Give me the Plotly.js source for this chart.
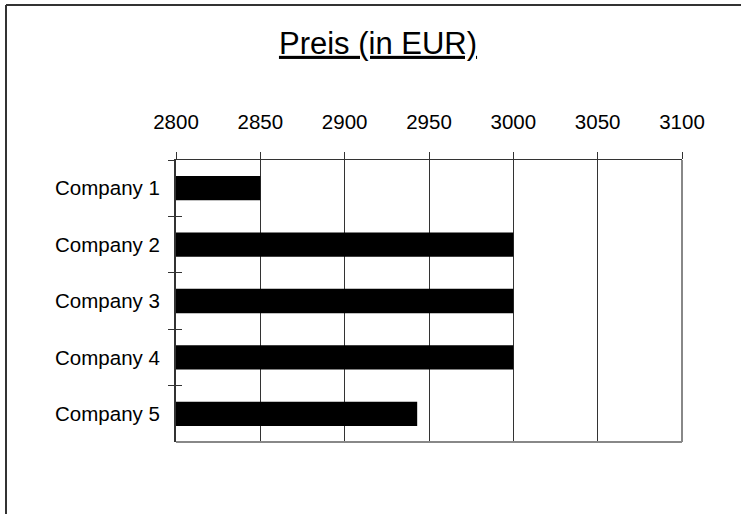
<!DOCTYPE html>
<html>
<head>
<meta charset="utf-8">
<script src="https://cdn.plot.ly/plotly-3.0.1.min.js"></script>
<style>html,body{margin:0;padding:0;background:#fff;}#chart{width:741px;height:514px;}</style>
</head>
<body>
<div id="chart"></div>
<script>
const categories = ["Company 1", "Company 2", "Company 3", "Company 4", "Company 5"];
const prices = [2850, 3000, 3000, 3000, 2943];
const xTicks = [2800, 2850, 2900, 2950, 3000, 3050, 3100];
const titleText = "Preis (in EUR)";

const font = "Arial, 'Liberation Sans', sans-serif";

const data = [
  {
    type: "bar",
    orientation: "h",
    y: categories,
    x: prices,
    base: 0,
    width: 0.43,
    marker: { color: "#000000", line: { width: 0 } },
    hoverinfo: "x+y",
    xaxis: "x",
    yaxis: "y"
  },
  {
    type: "scatter",
    mode: "none",
    y: categories,
    x: prices,
    xaxis: "x",
    yaxis: "y2",
    hoverinfo: "skip",
    showlegend: false
  }
];

const layout = {
  width: 741,
  height: 514,
  paper_bgcolor: "#ffffff",
  plot_bgcolor: "#ffffff",
  showlegend: false,
  margin: { l: 176, r: 59, t: 160, b: 72, pad: 0 },
  title: {
    text: "<u>" + titleText + "</u>",
    font: { family: font, size: 31, color: "#000" },
    x: 378 / 741,
    xanchor: "center",
    y: 1 - 43 / 514,
    yanchor: "middle"
  },
  xaxis: {
    side: "top",
    range: [2800, 3100],
    tickvals: xTicks,
    ticktext: xTicks.map(String),
    ticks: "outside",
    ticklen: 7,
    tickwidth: 1,
    tickcolor: "#333",
    showline: true,
    linecolor: "#333",
    linewidth: 1,
    showgrid: true,
    gridcolor: "#333",
    gridwidth: 1,
    zeroline: false,
    ticklabelstandoff: 15,
    tickfont: { family: font, size: 20.5, color: "#000" },
    fixedrange: true
  },
  yaxis: {
    type: "category",
    categoryorder: "array",
    categoryarray: categories,
    autorange: "reversed",
    tickson: "boundaries",
    ticks: "outside",
    ticklen: 6,
    tickwidth: 1,
    tickcolor: "#333",
    showline: true,
    linecolor: "#333",
    linewidth: 2,
    showgrid: false,
    zeroline: false,
    ticklabelstandoff: 10,
    tickfont: { family: font, size: 20.5, color: "#000" },
    fixedrange: true
  },
  yaxis2: {
    type: "category",
    categoryorder: "array",
    categoryarray: categories,
    autorange: "reversed",
    overlaying: "y",
    matches: "y",
    side: "left",
    anchor: "x",
    tickson: "boundaries",
    ticks: "inside",
    ticklen: 6,
    tickwidth: 1,
    tickcolor: "#333",
    showticklabels: false,
    showline: false,
    showgrid: false,
    zeroline: false,
    fixedrange: true
  },
  shapes: [
    { type: "line", xref: "paper", yref: "paper", x0: 1, x1: 1, y0: 0, y1: 1, line: { color: "#888", width: 2 } },
    { type: "line", xref: "paper", yref: "paper", x0: 0, x1: 1, y0: 0, y1: 0, line: { color: "#888", width: 2 } },
    { type: "line", xref: "paper", yref: "paper", x0: -170 / 506, x1: 2, y0: 437 / 282, y1: 437 / 282, line: { color: "#333", width: 2 } },
    { type: "line", xref: "paper", yref: "paper", x0: -170 / 506, x1: -170 / 506, y0: 437 / 282, y1: -2, line: { color: "#333", width: 2 } }
  ]
};

Plotly.newPlot("chart", data, layout, { displayModeBar: false, staticPlot: true });
</script>
</body>
</html>
